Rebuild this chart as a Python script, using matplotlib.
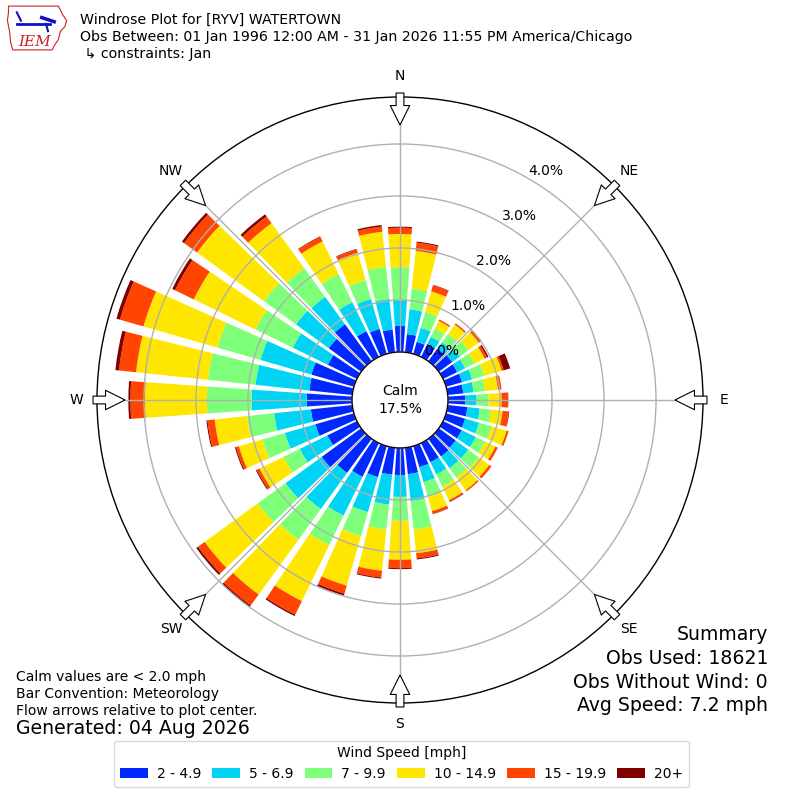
import numpy as np
import matplotlib
matplotlib.use("Agg")
import matplotlib.pyplot as plt
from matplotlib.patches import Patch, Polygon, Circle

# Direction centers (degrees, meteorological: direction wind blows from)
directions = np.arange(0, 360, 10)

# Frequency (%) per speed bin for each of the 36 directions
spd_2_5 = [0.50, 0.35, 0.24, 0.28, 0.30, 0.32, 0.30, 0.32, 0.30, 0.33, 0.38, 0.38,
           0.40, 0.40, 0.42, 0.41, 0.42, 0.51, 0.52, 0.52, 0.62, 0.72, 0.81, 0.94,
           0.63, 0.77, 0.80, 0.87, 0.83, 0.85, 0.62, 0.77, 0.88, 0.55, 0.50, 0.44]
spd_5_7 = [0.50, 0.48, 0.28, 0.15, 0.15, 0.18, 0.17, 0.20, 0.20, 0.22, 0.24, 0.28,
           0.30, 0.30, 0.28, 0.26, 0.30, 0.52, 0.42, 0.58, 0.70, 0.83, 0.86, 0.86,
           0.59, 0.61, 0.71, 1.06, 1.04, 1.02, 0.75, 0.78, 0.65, 0.62, 0.60, 0.59]
spd_7_10 = [0.63, 0.40, 0.32, 0.17, 0.20, 0.20, 0.20, 0.24, 0.22, 0.23, 0.22, 0.25,
            0.20, 0.25, 0.22, 0.26, 0.30, 0.55, 0.46, 0.48, 0.48, 0.63, 0.73, 0.66,
            0.35, 0.45, 0.52, 0.86, 0.92, 0.86, 0.80, 0.76, 0.68, 0.60, 0.38, 0.62]
spd_10_15 = [0.64, 0.73, 0.41, 0.17, 0.22, 0.25, 0.22, 0.35, 0.25, 0.25, 0.22, 0.30,
             0.22, 0.25, 0.30, 0.29, 0.28, 0.46, 0.75, 0.80, 0.99, 1.20, 1.30, 1.26,
             0.51, 0.47, 0.63, 1.19, 1.39, 1.48, 1.32, 1.59, 1.07, 0.70, 0.54, 0.68]
spd_15_20 = [0.12, 0.16, 0.12, 0.03, 0.03, 0.05, 0.05, 0.04, 0.07, 0.12, 0.12, 0.04,
             0.05, 0.05, 0.03, 0.03, 0.05, 0.10, 0.16, 0.13, 0.16, 0.29, 0.26, 0.16,
             0.06, 0.06, 0.14, 0.28, 0.33, 0.47, 0.40, 0.31, 0.16, 0.10, 0.07, 0.10]
spd_20p = [0.02, 0.02, 0.01, 0.00, 0.00, 0.01, 0.03, 0.13, 0.00, 0.01, 0.01, 0.00,
           0.00, 0.00, 0.00, 0.01, 0.01, 0.02, 0.02, 0.02, 0.04, 0.03, 0.04, 0.04,
           0.02, 0.02, 0.02, 0.04, 0.07, 0.07, 0.06, 0.05, 0.05, 0.01, 0.01, 0.03]

bins = [spd_2_5, spd_5_7, spd_7_10, spd_10_15, spd_15_20, spd_20p]
bin_labels = ["2 - 4.9", "5 - 6.9", "7 - 9.9", "10 - 14.9", "15 - 19.9", "20+"]
bin_colors = ["#0028ff", "#00d4f5", "#7dff7a", "#ffe600", "#ff4500", "#800000"]

calm_pct = 17.5
ring_ticks = [0, 1, 2, 3, 4]
compass = ["N", "NE", "E", "SE", "S", "SW", "W", "NW"]

# geometry (in % units): calm radius and outer limit
calm_r = 48 / 52
r_max = (303 - 48) / 52

fig = plt.figure(figsize=(8, 8), dpi=100)
ax = fig.add_axes([0.12125, 0.12125, 0.7575, 0.7575], projection="polar")
ax.set_theta_zero_location("N")
ax.set_theta_direction(-1)
ax.set_ylim(-calm_r, r_max)

theta = np.deg2rad(directions)
width = np.deg2rad(8)
bottom = np.zeros(len(directions))
for vals, col in zip(bins, bin_colors):
    vals = np.array(vals)
    ax.bar(theta, vals, width=width, bottom=bottom, color=col, linewidth=0, zorder=2)
    bottom = bottom + vals

# grid
ax.set_xticks(np.deg2rad(np.arange(0, 360, 45)))
ax.set_xticklabels([])
ax.set_yticks(ring_ticks)
ax.set_yticklabels([])
ax.grid(True, color="#b0b0b0", lw=1, zorder=3)
ax.set_axisbelow(False)
ax.spines["polar"].set_linewidth(1)

# calm circle
calm = Circle((0.5, 0.5), 48 / 606, transform=ax.transAxes, facecolor="white",
              edgecolor="black", lw=1, zorder=5)
ax.add_patch(calm)
ax.text(0.5, 0.5, "Calm\n%.1f%%" % calm_pct, transform=ax.transAxes, ha="center",
        va="center", fontsize=10, zorder=6, linespacing=1.3)

# ring labels
for t in ring_ticks:
    ax.text(np.deg2rad(30), t, "%.1f%%" % t, ha="left", va="bottom", fontsize=10, zorder=6)

# compass labels and flow arrows
for i, lab in enumerate(compass):
    th = np.deg2rad(i * 45)
    ax.text(th, (324 - 48) / 52, lab, ha="center", va="center", fontsize=10)
    ax.annotate("", xy=(th, (275 - 48) / 52), xytext=(th, (307 - 48) / 52),
                arrowprops=dict(arrowstyle="simple,head_length=0.7,head_width=0.7,tail_width=0.28",
                                fc="white", ec="black", lw=0.8, shrinkA=0, shrinkB=0,
                                mutation_scale=20),
                annotation_clip=False, zorder=7)

# header text
fig.text(80 / 800, 1 - 20 / 800, "Windrose Plot for [RYV] WATERTOWN", fontsize=10.15, va="center")
fig.text(80 / 800, 1 - 37 / 800,
         "Obs Between: 01 Jan 1996 12:00 AM - 31 Jan 2026 11:55 PM America/Chicago",
         fontsize=10.15, va="center")
fig.text(80 / 800, 1 - 54 / 800, " \u21b3 constraints: Jan", fontsize=10.15, va="center")

# IEM logo (simplified)
lax = fig.add_axes([0.008, 0.935, 0.078, 0.06])
lax.set_xlim(0, 60)
lax.set_ylim(0, 46)
lax.axis("off")
iowa = [(2, 44), (50, 44), (52, 40), (54, 36), (58, 30), (56, 24), (52, 20), (50, 12),
        (46, 6), (44, 2), (6, 2), (4, 10), (3, 20), (1, 30), (2, 38)]
lax.add_patch(Polygon(iowa, closed=True, fill=False, ec="#d02020", lw=0.8))
lax.plot([10, 42], [27, 27], color="#1010c0", lw=2)
lax.plot([10, 14], [38, 30], color="#1010c0", lw=1.5)
lax.plot([34, 46], [33, 29], color="#1010c0", lw=2.5)
lax.plot([38, 40], [27, 20], color="#1010c0", lw=1.5)
lax.text(27, 10, "IEM", color="#d02020", fontsize=11, family="DejaVu Serif",
         style="italic", ha="center", va="center")

# summary
summ = ["Summary", "Obs Used: 18621", "Obs Without Wind: 0", "Avg Speed: 7.2 mph"]
for i, s in enumerate(summ):
    fig.text(768 / 800, 1 - (635 + i * 23.5) / 800, s, ha="right", va="center", fontsize=13.6)

notes = ["Calm values are < 2.0 mph", "Bar Convention: Meteorology",
         "Flow arrows relative to plot center."]
for i, s in enumerate(notes):
    fig.text(16 / 800, 1 - (677 + i * 17) / 800, s, ha="left", va="center", fontsize=10)
fig.text(16 / 800, 1 - 729 / 800, "Generated: 04 Aug 2026", ha="left", va="center", fontsize=13.6)

handles = [Patch(facecolor=c, edgecolor="none") for c in bin_colors]
fig.legend(handles, bin_labels, loc="lower center", bbox_to_anchor=(0.502, 0.008), ncol=6,
           title="Wind Speed [mph]", fontsize=10, title_fontsize=10, handlelength=2.0,
           handletextpad=0.65, columnspacing=0.8, frameon=True)

fig.savefig("out.png", dpi=100)
